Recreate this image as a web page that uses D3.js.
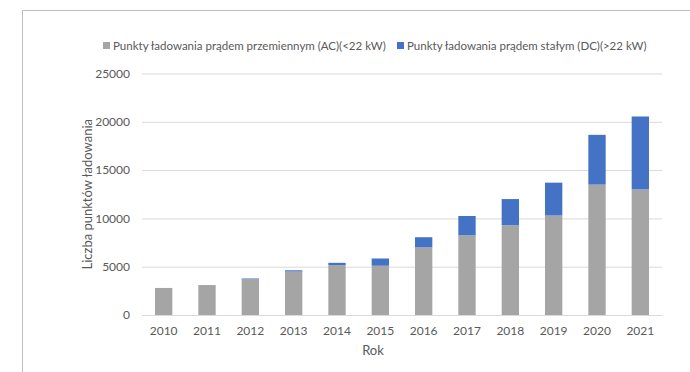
<!DOCTYPE html>
<html>
<head>
<meta charset="utf-8">
<script src="https://cdn.jsdelivr.net/npm/d3@7/dist/d3.min.js"></script>
<style>
  body { margin: 0; background: #fff; }
  svg text { font-family: Lato, "Open Sans", sans-serif; fill: #595959; }
</style>
</head>
<body>
<svg id="chart" width="690" height="372"></svg>
<script>
// Charging points in Poland by year
const years = ["2010","2011","2012","2013","2014","2015","2016","2017","2018","2019","2020","2021"];
const acPoints = [2800, 3100, 3700, 4500, 5150, 5100, 7000, 8250, 9300, 10300, 13500, 13000];
const dcPoints = [0, 0, 80, 130, 250, 750, 1050, 2000, 2700, 3400, 5150, 7550];
const yTicks = [0, 5000, 10000, 15000, 20000, 25000];
const seriesNames = [
  "Punkty ładowania prądem przemiennym (AC)(<22 kW)",
  "Punkty ładowania prądem stałym (DC)(>22 kW)"
];
const seriesColors = ["#A5A5A5", "#4472C4"];

const svg = d3.select("#chart");

// outer frame (top and left edges)
svg.append("line").attr("x1", 22.5).attr("x2", 690).attr("y1", 10.5).attr("y2", 10.5)
  .attr("stroke", "#bdbdbd").attr("stroke-width", 1);
svg.append("line").attr("x1", 22.5).attr("x2", 22.5).attr("y1", 10.5).attr("y2", 372)
  .attr("stroke", "#bdbdbd").attr("stroke-width", 1);

const plot = { left: 142, right: 662, top: 73.5, bottom: 315 };

const x = d3.scaleBand().domain(years).range([plot.left, plot.right]).paddingInner(0.6).paddingOuter(0.3);
const y = d3.scaleLinear().domain([0, 25000]).range([plot.bottom, plot.top]);

// gridlines and y labels
const yAxis = d3.axisLeft(y).tickValues(yTicks).tickFormat(d3.format("d"))
  .tickSize(-(plot.right - plot.left)).tickPadding(12);
const gy = svg.append("g").attr("transform", `translate(${plot.left},0)`).call(yAxis);
gy.select(".domain").remove();
gy.selectAll(".tick line").attr("stroke", "#d9d9d9").attr("stroke-width", 1);
gy.selectAll(".tick text").attr("font-size", 12).style("fill", "#595959");

// stacked bars
const rows = years.map((yr, i) => ({ year: yr, ac: acPoints[i], dc: dcPoints[i] }));
const stack = d3.stack().keys(["ac", "dc"])(rows);

svg.append("g").selectAll("g").data(stack).join("g")
  .attr("fill", (d, i) => seriesColors[i])
  .selectAll("rect").data(d => d).join("rect")
  .attr("x", d => x(d.data.year))
  .attr("width", x.bandwidth())
  .attr("y", d => y(d[1]))
  .attr("height", d => y(d[0]) - y(d[1]));

// x axis
const xAxis = d3.axisBottom(x).tickSize(0).tickPadding(11);
const gx = svg.append("g").attr("transform", `translate(0,${plot.bottom})`).call(xAxis);
gx.select(".domain").attr("stroke", "#d9d9d9");
gx.selectAll(".tick text").attr("font-size", 12).style("fill", "#595959");

// axis titles
svg.append("text").attr("x", 373).attr("y", 355)
  .attr("text-anchor", "middle").attr("font-size", 13).text("Rok");
svg.append("text")
  .attr("transform", `translate(92,${(plot.top + plot.bottom) / 2}) rotate(-90)`)
  .attr("text-anchor", "middle").attr("font-size", 13).text("Liczba punktów ładowania");

// legend
const legendX = [103, 397];
const lg = svg.append("g").selectAll("g").data(seriesNames).join("g")
  .attr("transform", (d, i) => `translate(${legendX[i]},46)`);
lg.append("rect").attr("x", 0).attr("y", -4).attr("width", 7).attr("height", 7)
  .attr("fill", (d, i) => seriesColors[i]);
lg.append("text").attr("x", 10).attr("y", 4).attr("font-size", 11.5).text(d => d);
</script>
</body>
</html>
